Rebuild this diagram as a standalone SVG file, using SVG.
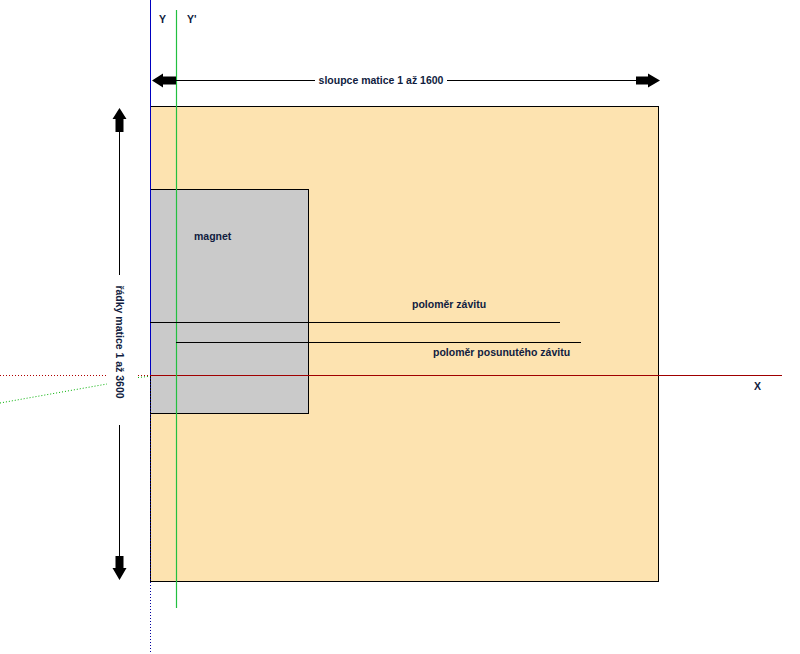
<svg xmlns="http://www.w3.org/2000/svg" width="800" height="654" viewBox="0 0 800 654">
<style>
.t{font-family:"Liberation Sans",Arial,sans-serif;font-weight:bold;font-size:10.5px;fill:#101c40}
.ln{stroke:#000;stroke-width:1;fill:none}
.ah{fill:#000;stroke:none}
</style>
<rect width="800" height="654" fill="#fff"/>
<g id="plate"><rect x="150.5" y="106.5" width="508" height="475" fill="#fde3b0" stroke="#000"/></g>
<g id="magnet"><rect x="150.5" y="189.5" width="158" height="224" fill="#cacaca" stroke="#000"/>
<text class="t" x="194" y="240">magnet</text></g>
<g id="connectors">
<line x1="0" y1="375.5" x2="107" y2="375.5" stroke="#b00000" stroke-dasharray="1,2"/>
<line x1="138" y1="375.5" x2="148" y2="375.5" stroke="#b00000" stroke-dasharray="1,2"/>
<line x1="0" y1="403" x2="107" y2="384" stroke="#00b000" stroke-dasharray="1,2"/>
<line x1="138" y1="377.5" x2="148" y2="376.5" stroke="#00b000" stroke-dasharray="1,2"/>
<line x1="150.5" y1="0" x2="150.5" y2="375" stroke="#0000c0"/>
<line x1="150.5" y1="375" x2="150.5" y2="654" stroke="#0000a0" stroke-dasharray="1,2"/>
<line x1="150" y1="375.5" x2="782" y2="375.5" stroke="#a00000"/>
<line x1="176.5" y1="10" x2="176.5" y2="608" stroke="#22c040" stroke-width="1.2"/>
<line class="ln" x1="150" y1="322.5" x2="560" y2="322.5"/>
<line class="ln" x1="176" y1="342.5" x2="581" y2="342.5"/>
<line class="ln" x1="176" y1="80.5" x2="315" y2="80.5"/>
<line class="ln" x1="447" y1="80.5" x2="636" y2="80.5"/>
<path class="ah" d="M152,80.5 L163,73.5 L163,76.5 L176,76.5 L176,84.5 L163,84.5 L163,87.5 Z"/>
<path class="ah" d="M660,80.5 L648,73.5 L648,76.5 L636,76.5 L636,84.5 L648,84.5 L648,87.5 Z"/>
<line class="ln" x1="119.5" y1="130" x2="119.5" y2="275"/>
<line class="ln" x1="119.5" y1="425" x2="119.5" y2="556"/>
<path class="ah" d="M119.5,108 L112.5,119 L115.5,119 L115.5,132 L123.5,132 L123.5,119 L126.5,119 Z"/>
<path class="ah" d="M119.5,580 L112.5,568 L115.5,568 L115.5,556 L123.5,556 L123.5,568 L126.5,568 Z"/>
</g>
<g id="labels">
<text class="t" x="159" y="23">Y</text>
<text class="t" x="187" y="23">Y'</text>
<text class="t" x="381" y="84" text-anchor="middle">sloupce matice 1 až 1600</text>
<text class="t" transform="translate(115.5,342) rotate(90)" text-anchor="middle">řádky matice 1 až 3600</text>
<text class="t" x="412" y="308">poloměr závitu</text>
<text class="t" x="433" y="356">poloměr posunutého závitu</text>
<text class="t" x="754" y="390">X</text>
</g>
</svg>
